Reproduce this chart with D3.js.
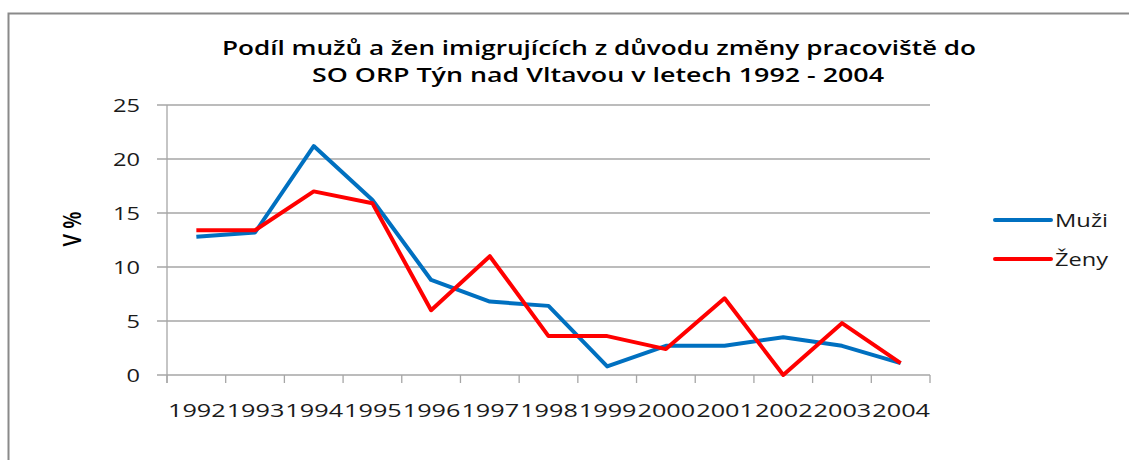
<!doctype html>
<html>
<head>
<meta charset="utf-8">
<script src="https://d3js.org/d3.v7.min.js"></script>
<style>
  body { margin: 0; background: #fff; }
  text { font-family: "Open Sans", sans-serif; fill: #1a1a1a; }
</style>
</head>
<body>
<div id="chart"></div>
<script>
// data
var years = ["1992","1993","1994","1995","1996","1997","1998","1999","2000","2001","2002","2003","2004"];
var muzi  = [12.8, 13.2, 21.2, 16.2, 8.8, 6.8, 6.4, 0.8, 2.7, 2.7, 3.5, 2.7, 1.1];
var zeny  = [13.4, 13.4, 17.0, 15.9, 6.0, 11.0, 3.6, 3.6, 2.4, 7.1, 0, 4.8, 1.1];
var yTicks = [0, 5, 10, 15, 20, 25];
var titleLines = ["Podíl mužů a žen imigrujících z důvodu změny pracoviště do",
                  "SO ORP Týn nad Vltavou v letech 1992 - 2004"];
var series = [
  {name: "Muži", values: muzi, color: "#0070C0"},
  {name: "Ženy", values: zeny, color: "#FF0000"}
];

var W = 1129, H = 460;
var margin = {top: 105, left: 167, right: 199, bottom: 85};
var width = W - margin.left - margin.right,
    height = H - margin.top - margin.bottom;

var svg = d3.select("#chart").append("svg")
    .attr("width", W)
    .attr("height", H);

// outer frame
svg.append("path")
  .attr("d", "M8.5," + (H + 5) + "V13.5H" + (W + 5))
  .attr("fill", "none")
  .attr("stroke", "#8a8a8a")
  .attr("stroke-width", 2);

// title
svg.selectAll(".title")
  .data(titleLines)
  .enter().append("text")
    .attr("class", "title")
    .attr("x", function(d, i) { return i == 0 ? 222 : 312; })
    .attr("y", function(d, i) { return 55 + i * 27; })
    .attr("textLength", function(d, i) { return i == 0 ? 754 : 572; })
    .attr("lengthAdjust", "spacingAndGlyphs")
    .style("font-size", "20px")
    .style("font-weight", "600")
    .style("fill", "#000")
    .text(function(d) { return d; });

var g = svg.append("g")
  .attr("transform", "translate(" + margin.left + "," + margin.top + ")");

var x = d3.scaleBand().domain(years).range([0, width]);
var y = d3.scaleLinear().domain([0, 25]).range([height, 0]);

// gridlines
g.selectAll(".grid")
  .data(yTicks)
  .enter().append("line")
    .attr("x1", -10).attr("x2", width)
    .attr("y1", function(d) { return y(d); })
    .attr("y2", function(d) { return y(d); })
    .attr("stroke", "#a6a6a6")
    .attr("stroke-width", 1.3);

// y axis line
g.append("line")
  .attr("x1", 0).attr("x2", 0)
  .attr("y1", 0).attr("y2", height + 8)
  .attr("stroke", "#a6a6a6")
  .attr("stroke-width", 1.3);

// x ticks at band edges
var edges = years.map(function(d) { return x(d); }).concat([width]);
g.selectAll(".xtick")
  .data(edges)
  .enter().append("line")
    .attr("x1", function(d) { return d; })
    .attr("x2", function(d) { return d; })
    .attr("y1", height).attr("y2", height + 8)
    .attr("stroke", "#a6a6a6")
    .attr("stroke-width", 1.3);

// y tick labels
g.selectAll(".ylab")
  .data(yTicks)
  .enter().append("text")
    .attr("x", -27)
    .attr("y", function(d) { return y(d) + 7; })
    .attr("text-anchor", "end")
    .attr("textLength", function(d) { return String(d).length * 13.5; })
    .attr("lengthAdjust", "spacingAndGlyphs")
    .style("font-size", "19px")
    .text(function(d) { return d; });

// x tick labels
g.selectAll(".xlab")
  .data(years)
  .enter().append("text")
    .attr("x", function(d) { return x(d) + 1; })
    .attr("y", height + 42)
    .attr("textLength", x.bandwidth() - 1)
    .attr("lengthAdjust", "spacingAndGlyphs")
    .style("font-size", "19px")
    .text(function(d) { return d; });

// y axis title
svg.append("text")
  .attr("transform", "translate(81,229) rotate(-90)")
  .attr("text-anchor", "middle")
  .attr("textLength", 35)
  .attr("lengthAdjust", "spacingAndGlyphs")
  .style("font-size", "25px")
  .style("font-weight", "600")
  .style("fill", "#000")
  .text("V %");

// lines
var line = d3.line()
  .x(function(d, i) { return x(years[i]) + x.bandwidth() / 2; })
  .y(function(d) { return y(d); });

g.selectAll(".series")
  .data(series)
  .enter().append("path")
    .attr("d", function(d) { return line(d.values); })
    .attr("fill", "none")
    .attr("stroke", function(d) { return d.color; })
    .attr("stroke-width", 4)
    .attr("stroke-linejoin", "round");

// legend
var legend = svg.selectAll(".legend")
  .data(series)
  .enter().append("g")
    .attr("transform", function(d, i) { return "translate(995," + (220 + i * 39) + ")"; });

legend.append("line")
  .attr("x1", 0).attr("x2", 56)
  .attr("stroke", function(d) { return d.color; })
  .attr("stroke-width", 4)
  .attr("stroke-linecap", "round");

legend.append("text")
  .attr("x", 60)
  .attr("y", 7)
  .attr("textLength", 53)
  .attr("lengthAdjust", "spacingAndGlyphs")
  .style("font-size", "19px")
  .text(function(d) { return d.name; });
</script>
</body>
</html>
